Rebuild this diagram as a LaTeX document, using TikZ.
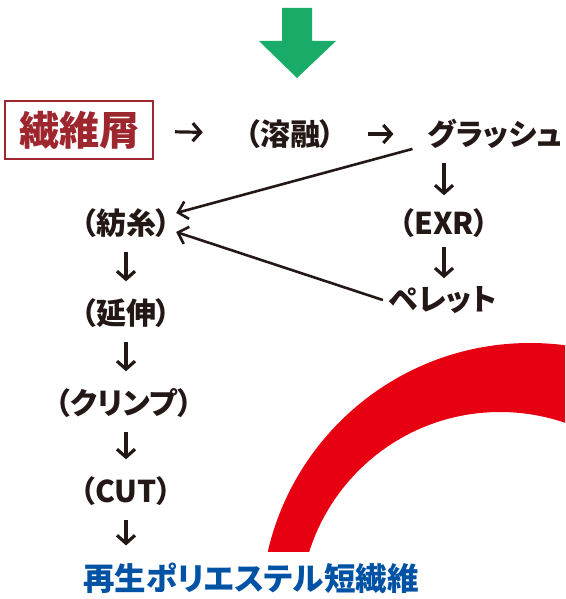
\documentclass[tikz,border=0pt]{standalone}
\usepackage{fontspec}
\setmainfont{Noto Sans CJK JP}[RawFeature=+palt, BoldFont={Noto Sans CJK JP Black}]
\usepackage{xcolor}
\usetikzlibrary{arrows.meta, positioning}
\definecolor{RecyInk}{RGB}{35, 24, 21}
\definecolor{RecyWine}{RGB}{158, 38, 46}
\definecolor{RecyBlue}{RGB}{0, 82, 164}
\definecolor{RecyRed}{RGB}{230, 0, 18}
\definecolor{RecyGreen}{RGB}{24, 172, 104}

\tikzset{
  proc/.style={font=\fontsize{30}{32}\selectfont\bfseries, text=RecyInk, inner sep=0pt},
  flow/.style={draw=RecyInk, line width=3.2pt, -{Straight Barb[length=8pt, width=18pt]}},
  back/.style={draw=RecyInk, line width=2.6pt, -{Straight Barb[length=9pt, width=18pt]}}
}

\begin{document}
\begin{tikzpicture}[x=1pt,y=-1pt]
  \path[use as bounding box] (0,0) rectangle (565,599);

  % red band behind the text
  \begin{scope}
    \clip (0,0) rectangle (565,551);
    \fill[RecyRed, even odd rule] (530,612) circle (269) (500,612) circle (200);
  \end{scope}

  % green arrow on top
  \fill[RecyGreen] (282,8) -- (312,8) -- (312,41) -- (336,41) -- (297,78) --
    (259,41) -- (282,41) -- cycle;

  % top row
  \node[draw=RecyWine, line width=2pt, minimum width=148pt, minimum height=57pt,
        font=\fontsize{40}{42}\selectfont\bfseries, text=RecyWine] (kuzu) at (79,130) {繊維屑};
  \node[proc] (yoyu) at (290,134) {（溶融）};
  \node[proc] (glass) at (495,134) {グラッシュ};

  % right column
  \node[proc] (exr) at (444,223) {（EXR）};
  \node[proc] (pellet) at (443,300) {ペレット};

  % left column
  \node[proc] (boushi) at (126,223) {（紡糸）};
  \node[proc] (ensin) at (126,313) {（延伸）};
  \node[proc] (crimp) at (124,403) {（クリンプ）};
  \node[proc] (cut) at (126,491) {（CUT）};
  \node[proc, text=RecyBlue, font=\fontsize{31.5}{33}\selectfont\bfseries] (saisei) at (251,578) {再生ポリエステル短繊維};

  \draw[flow, shorten <=21pt, shorten >=42pt] (kuzu) -- (yoyu);
  \draw[flow, shorten <=33pt, shorten >=34pt] (yoyu) -- (glass);
  \draw[flow, shorten <=14pt, shorten >=13pt] (glass.south -| exr) -- (exr);
  \draw[flow, shorten <=9pt, shorten >=8pt] (exr) -- (pellet.north -| exr);
  \draw[flow, shorten <=14pt, shorten >=17pt] (boushi) -- (ensin);
  \draw[flow, shorten <=14pt, shorten >=17pt] (ensin) -- (crimp.north -| ensin);
  \draw[flow, shorten <=14pt, shorten >=17pt] (crimp.south -| cut) -- (cut);
  \draw[flow, shorten <=14pt, shorten >=17pt] (cut) -- (saisei.north -| cut);

  % feedback lines into spinning
  \draw[back] ([xshift=-15pt]glass.south west) -- ([xshift=5pt,yshift=10pt]boushi.east);
  \draw[back] ([xshift=-6pt]pellet.west) -- ([xshift=5pt,yshift=-9pt]boushi.east);
\end{tikzpicture}
\end{document}
